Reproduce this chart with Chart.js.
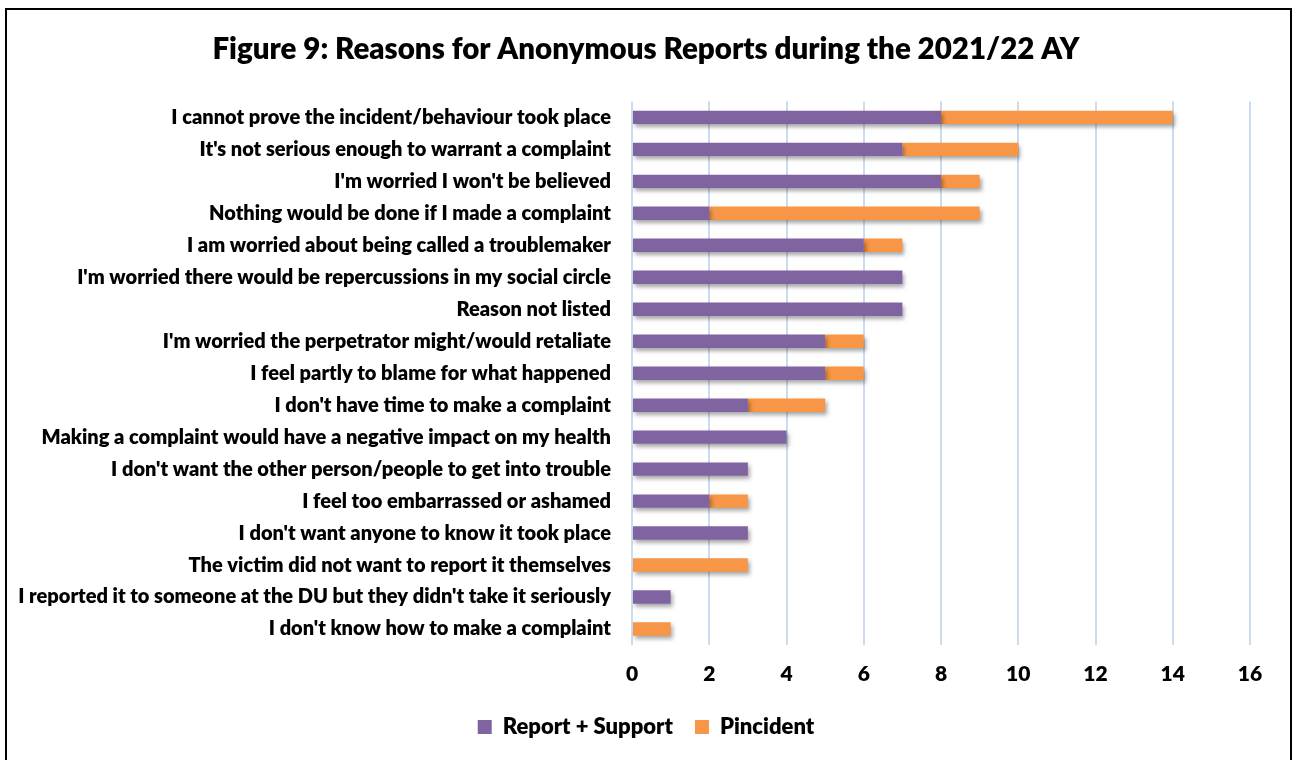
<!DOCTYPE html>
<html>
<head>
<meta charset="utf-8">
<script src="https://cdn.jsdelivr.net/npm/chart.js@4"></script>
<style>
  html, body { margin: 0; padding: 0; background: #fff; }
  #wrap { position: relative; width: 1292px; height: 760px; }
  #frame {
    position: absolute; left: 5px; top: 8px; width: 1283px; height: 760px;
    border: 2px solid #000; border-bottom: none; pointer-events: none;
  }
</style>
</head>
<body>
<div id="wrap">
  <canvas id="chart" width="1292" height="760"></canvas>
  <div id="frame"></div>
</div>
<script>
const reasons = [
    "I cannot prove the incident/behaviour took place",
    "It's not serious enough to warrant a complaint",
    "I'm worried I won't be believed",
    "Nothing would be done if I made a complaint",
    "I am worried about being called a troublemaker",
    "I'm worried there would be repercussions in my social circle",
    "Reason not listed",
    "I'm worried the perpetrator might/would retaliate",
    "I feel partly to blame for what happened",
    "I don't have time to make a complaint",
    "Making a complaint would have a negative impact on my health",
    "I don't want the other person/people to get into trouble",
    "I feel too embarrassed or ashamed",
    "I don't want anyone to know it took place",
    "The victim did not want to report it themselves",
    "I reported it to someone at the DU but they didn't take it seriously",
    "I don't know how to make a complaint"
];
const reportSupport = [8, 7, 8, 2, 6, 7, 7, 5, 5, 3, 4, 3, 2, 3, 0, 1, 0];
const pincident     = [6, 3, 1, 7, 1, 0, 0, 1, 1, 2, 0, 0, 1, 0, 3, 0, 1];
const xMax = 16;
const xStep = 2;

const FONT = "Lato, 'Open Sans', sans-serif";
const WEIGHT = '800';

// soft drop shadow under the bars, like the spreadsheet original
const barShadow = {
    id: 'barShadow',
    beforeDatasetsDraw(chart) {
        const ctx = chart.ctx;
        ctx.save();
        ctx.shadowColor = 'rgba(0, 0, 0, 0.35)';
        ctx.shadowBlur = 4;
        ctx.shadowOffsetX = 2;
        ctx.shadowOffsetY = 3;
    },
    afterDatasetsDraw(chart) {
        chart.ctx.restore();
    }
};

new Chart(document.getElementById('chart').getContext('2d'), {
    type: 'bar',
    data: {
        labels: reasons,
        datasets: [
            { label: 'Report + Support', data: reportSupport, backgroundColor: '#8064A2',
              barPercentage: 0.42, categoryPercentage: 1 },
            { label: 'Pincident', data: pincident, backgroundColor: '#F79646',
              barPercentage: 0.42, categoryPercentage: 1 }
        ]
    },
    options: {
        indexAxis: 'y',
        responsive: false,
        animation: false,
        layout: { padding: { top: 0, right: 0, bottom: 12, left: 0 } },
        scales: {
            x: {
                stacked: true,
                min: 0, max: xMax,
                afterFit: axis => { axis.height = 49; },
                grid: { color: '#CCDBF0', lineWidth: 2, drawTicks: false },
                border: { display: false },
                ticks: { stepSize: xStep, color: '#000', padding: 17,
                         font: { family: FONT, size: 21, weight: WEIGHT } }
            },
            y: {
                stacked: true,
                afterFit: axis => { axis.width = 632; },
                grid: { display: false },
                border: { display: false },
                ticks: { color: '#000', padding: 13, autoSkip: false,
                         font: { family: FONT, size: 20, weight: WEIGHT } }
            },
            // empty right-hand gutter so title and legend centre on the full width
            gutter: {
                type: 'linear',
                position: 'right',
                display: true,
                afterFit: axis => { axis.width = 42; },
                grid: { display: false },
                border: { display: false },
                ticks: { display: false }
            }
        },
        plugins: {
            title: {
                display: true,
                text: 'Figure 9: Reasons for Anonymous Reports during the 2021/22 AY',
                color: '#000',
                font: { family: FONT, size: 29.5, weight: WEIGHT },
                padding: { top: 32, bottom: 34 }
            },
            legend: {
                position: 'bottom',
                labels: {
                    color: '#000',
                    boxWidth: 14, boxHeight: 14,
                    padding: 22,
                    font: { family: FONT, size: 22, weight: WEIGHT }
                }
            },
            tooltip: { enabled: false }
        }
    },
    plugins: [barShadow]
});
</script>
</body>
</html>
